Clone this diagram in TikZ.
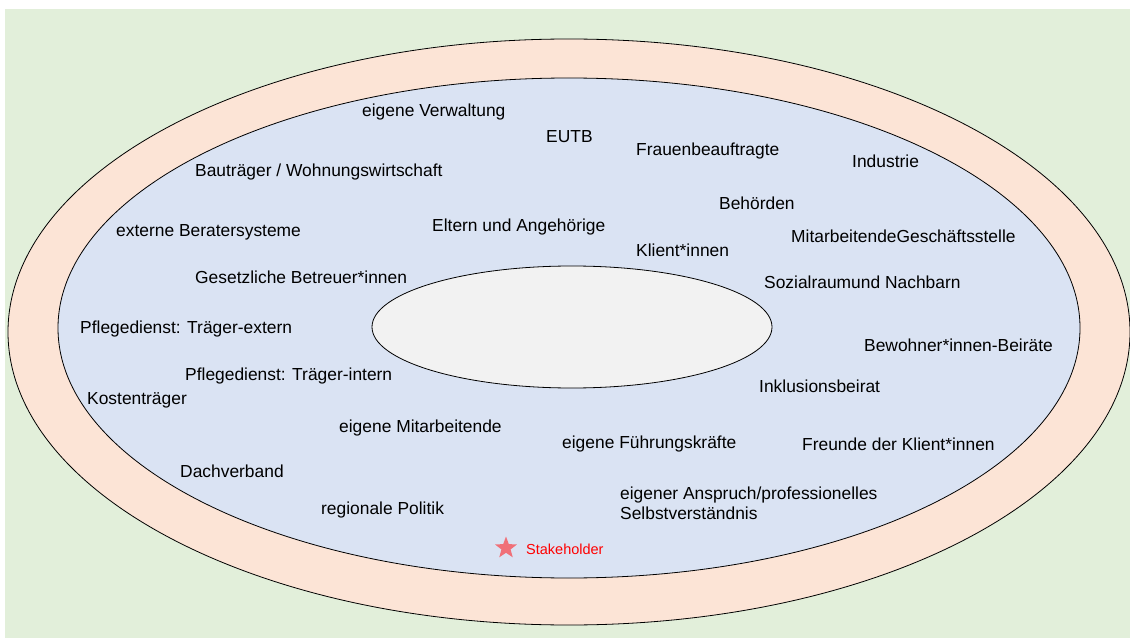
\documentclass[tikz,border=0pt]{standalone}
\usepackage{fontspec}
\setmainfont{Liberation Sans}
\usetikzlibrary{shapes.geometric}
\definecolor{bggreen}{HTML}{E2EFDA}
\definecolor{ringpeach}{HTML}{FCE4D6}
\definecolor{innerblue}{HTML}{DAE3F3}
\definecolor{coregray}{HTML}{F2F2F2}
\definecolor{starred}{HTML}{F07078}
\tikzset{
  lbl/.style={anchor=west, inner sep=0pt, yshift=-1.5pt, font=\fontsize{17.4}{20}\selectfont, text=black},
  ring/.style={draw=black, line width=0.8pt},
}
\begin{document}
\begin{tikzpicture}[x=1pt,y=-1pt]
\useasboundingbox (0,0) rectangle (1130,639);
\fill[bggreen] (5,9) rectangle (1130,638);
\draw[ring, fill=ringpeach] (569,332) ellipse [x radius=561, y radius=293];
\draw[ring, fill=innerblue] (569,328) ellipse [x radius=511, y radius=250];
\draw[ring, fill=coregray] (572,327) ellipse [x radius=200, y radius=61];

\node[lbl] (t1) at (362,111) {eigene Verwaltung};
\node[lbl] (t2) at (546,135) {EUTB};
\node[lbl] (t3) at (636,150) {Frauenbeauftragte};
\node[lbl] (t4) at (852,160) {Industrie};
\node[lbl] (t5) at (195,171) {Bauträger / Wohnungswirtschaft};
\node[lbl] (t6) at (719,202) {Behörden};
\node[lbl] (t7) at (116,231) {externe Beratersysteme};
\node[lbl] (t8) at (432,226) {Eltern und Angehörige};
\node[lbl] (t9) at (791,235) {MitarbeitendeGeschäftsstelle};
\node[lbl] (t10) at (636,249) {Klient*innen};
\node[lbl] (t11) at (195,276) {Gesetzliche Betreuer*innen};
\node[lbl] (t12) at (764,281) {Sozialraumund Nachbarn};
\node[lbl] (t13) at (80,328) {Pflegedienst: Träger-extern};
\node[lbl] (t14) at (864,344) {Bewohner*innen-Beiräte};
\node[lbl] (t15) at (185,375) {Pflegedienst: Träger-intern};
\node[lbl] (t16) at (759,385) {Inklusionsbeirat};
\node[lbl] (t17) at (87,399) {Kostenträger};
\node[lbl] (t18) at (339,426) {eigene Mitarbeitende};
\node[lbl] (t19) at (562,442) {eigene Führungskräfte};
\node[lbl] (t20) at (802,443) {Freunde der Klient*innen};
\node[lbl] (t21) at (180,470) {Dachverband};
\node[lbl, align=left] (t22) at (620,502) {eigener Anspruch/professionelles\\Selbstverständnis};
\node[lbl] (t23) at (321,508) {regionale Politik};

\node[star, star points=5, star point ratio=2.4, fill=starred, draw=none, minimum size=23pt, inner sep=0pt] (star) at (506,548) {};
\node[anchor=west, inner sep=0pt, yshift=-1pt, font=\fontsize{14.5}{17}\selectfont, text=red] (sh) at (526,548) {Stakeholder};
\end{tikzpicture}
\end{document}
